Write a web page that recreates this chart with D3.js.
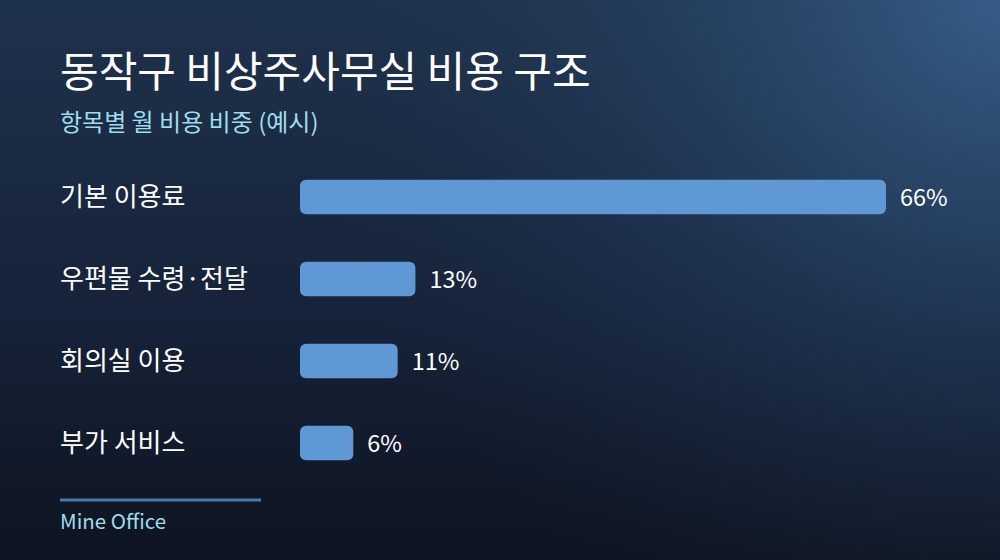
<!DOCTYPE html>
<html>
<head>
<meta charset="utf-8">
<script src="https://cdn.jsdelivr.net/npm/d3@7"></script>
<style>
  html, body { margin: 0; padding: 0; background: #0f1624; }
  svg { display: block; font-family: "Noto Sans CJK KR", "Noto Sans", sans-serif; }
</style>
</head>
<body>
<svg id="chart" width="1000" height="560"></svg>
<script>
// 항목별 월 비용 비중
var categories = ["기본 이용료", "우편물 수령·전달", "회의실 이용", "부가 서비스"];
var shares = [66, 13, 11, 6];
var valueLabels = ["66%", "13%", "11%", "6%"];

var svg = d3.select("#chart");

// 배경 그라디언트
var defs = svg.append("defs");
var base = defs.append("linearGradient")
  .attr("id", "base")
  .attr("x1", 0).attr("y1", 0).attr("x2", 0).attr("y2", 1);
base.append("stop").attr("offset", "0%").attr("stop-color", "#1f324c");
base.append("stop").attr("offset", "55%").attr("stop-color", "#16233a");
base.append("stop").attr("offset", "100%").attr("stop-color", "#0e1420");

var glow = defs.append("radialGradient")
  .attr("id", "glow")
  .attr("gradientUnits", "userSpaceOnUse")
  .attr("cx", 1000).attr("cy", 0).attr("r", 700);
glow.append("stop").attr("offset", "0%").attr("stop-color", "#3a6491").attr("stop-opacity", 0.85);
glow.append("stop").attr("offset", "50%").attr("stop-color", "#2e5078").attr("stop-opacity", 0.35);
glow.append("stop").attr("offset", "100%").attr("stop-color", "#1f324c").attr("stop-opacity", 0);

svg.append("rect")
  .attr("width", 1000).attr("height", 560)
  .attr("fill", "url(#base)");
svg.append("rect")
  .attr("width", 1000).attr("height", 560)
  .attr("fill", "url(#glow)");

// 제목
svg.append("text")
  .attr("x", 60).attr("y", 87)
  .attr("fill", "#ffffff")
  .attr("font-size", 42)
  .text("동작구 비상주사무실 비용 구조");

svg.append("text")
  .attr("x", 60).attr("y", 131)
  .attr("fill", "#9fdcee")
  .attr("font-size", 24)
  .text("항목별 월 비용 비중 (예시)");

// 스케일
var x = d3.scaleLinear()
  .domain([0, d3.max(shares)])
  .range([300, 886]);

var y = d3.scaleBand()
  .domain(categories)
  .range([156, 484])
  .paddingInner(0.58)
  .paddingOuter(0.29);

var rows = svg.append("g")
  .selectAll("g")
  .data(categories)
  .join("g");

rows.append("text")
  .attr("x", 60)
  .attr("y", function(d) { return y(d) + y.bandwidth() / 2 - 3; })
  .attr("dominant-baseline", "central")
  .attr("fill", "#ffffff")
  .attr("font-size", 26)
  .text(function(d) { return d; });

rows.append("rect")
  .attr("x", x(0))
  .attr("y", function(d) { return y(d); })
  .attr("width", function(d, i) { return x(shares[i]) - x(0); })
  .attr("height", y.bandwidth())
  .attr("rx", 6)
  .attr("fill", "#5f98d4");

rows.append("text")
  .attr("x", function(d, i) { return x(shares[i]) + 14; })
  .attr("y", function(d) { return y(d) + y.bandwidth() / 2 - 1; })
  .attr("dominant-baseline", "central")
  .attr("fill", "#ffffff")
  .attr("font-size", 23.5)
  .text(function(d, i) { return valueLabels[i]; });

// 하단
svg.append("line")
  .attr("x1", 60).attr("x2", 261)
  .attr("y1", 500).attr("y2", 500)
  .attr("stroke", "#4a79aa")
  .attr("stroke-width", 3);

svg.append("text")
  .attr("x", 60).attr("y", 529)
  .attr("fill", "#9fdcee")
  .attr("font-size", 20.5)
  .text("Mine Office");
</script>
</body>
</html>
